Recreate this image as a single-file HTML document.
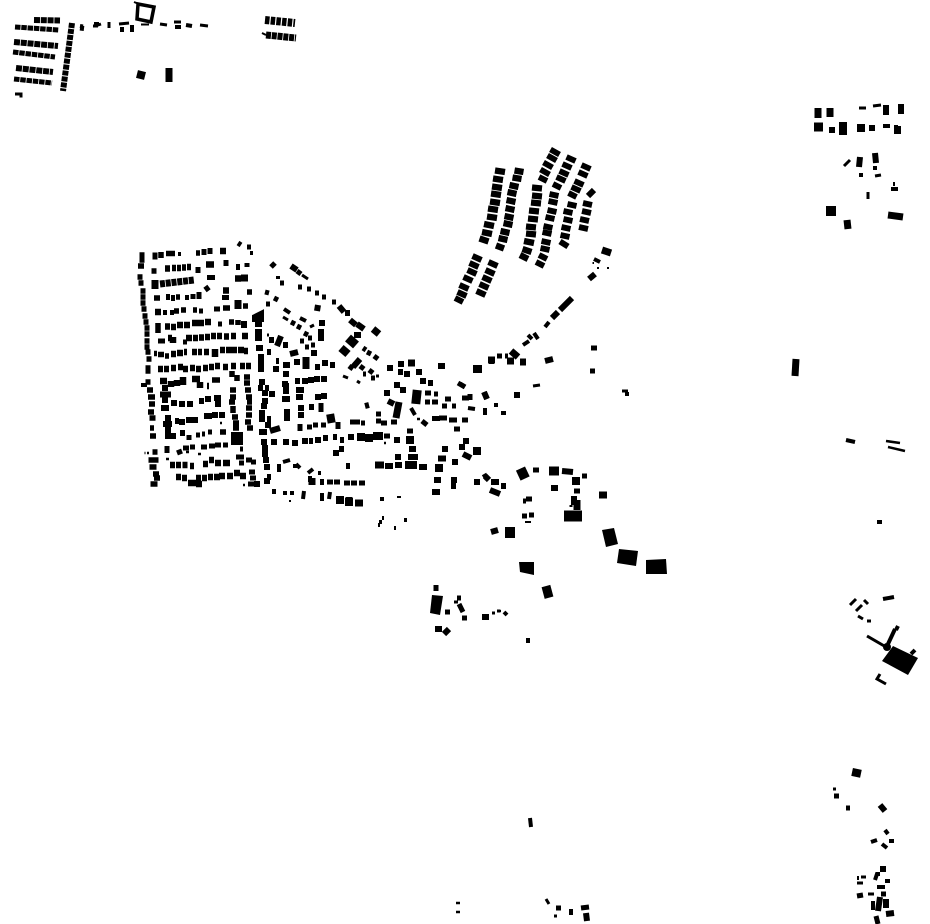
<!DOCTYPE html>
<html><head><meta charset="utf-8"><style>
html,body{margin:0;padding:0;background:#fff}
svg{display:block}
path{fill:none;stroke:#000;stroke-linecap:butt}
</style></head><body>
<svg width="930" height="924" viewBox="0 0 930 924" xmlns="http://www.w3.org/2000/svg">
<rect width="930" height="924" fill="#fff"/>
<!-- top left rows -->
<path stroke-width="6" stroke-dasharray="6 .8" d="M34 20l26 .5M14 42l44 4M16 68l37 4"/>
<path stroke-width="5" stroke-dasharray="5.5 .8" d="M15 27l44 3M13 52l42 5M14 79l38 4"/>
<path stroke-width="6" stroke-dasharray="5 1" d="M72 23l-9 68"/>
<path stroke-width="8" stroke-dasharray="4.5 1.2" d="M265 20l30 3"/>
<path stroke-width="7" stroke-dasharray="5 .8" d="M266 35l30 3"/>
<path stroke-width="3.5" d="M138 4l16 3l-3 15l-14 -3z"/>
<path stroke-width="2" d="M134 2l5 2M141 24.5h8M262 33l4 2"/>
<path stroke-width="3" d="M95 26l6 -2M94 23.5h5M109 22v6M160 24l7 1M174 22h7M200 25l8 1M93 26h5M119 24l10 -1M15 94h6M21 92.5v5"/>
<path stroke-width="4" d="M122 27v5M132 25v7M175 27h6M186 25l6 1M80 26l3 .5"/>
<path stroke-width="5" d="M80 28l4 .5"/>
<path stroke-width="8" d="M137 74l8 2"/>
<path stroke-width="7" d="M169 68v14"/>

<!-- west block -->
<path stroke-width="5.500" d="M139.500 255h5M139.500 260h5M138 266h6M137.500 277h5M138.500 283h5M140.500 291h5M140.500 297h5M140.500 303h5M141.500 309h5M142.500 316h5M143.500 322h5M144.500 328h5M144.500 334h5M144.500 341h5M144.500 347h5M145.500 352h5M146.500 359h5M145.500 368h5M145.500 371h5M145.500 382h5M147 390h6M148 397h7M149 404h6M148 412h6M149.500 418h6M150 428h4M150 436h6M152.500 452h5M148.500 460h10M149.500 467h7M153 474h6M154 478h6M150.500 484h7"/>
<path stroke-width="5" d="M155 252.500v7M204 249v6M210 248v6M247 247h4M238 243l3 2M198 267v6M226 260v6M247 263v4M207 277.500h8M193 294v5M199 292v7M222 297.500h7M163 312.500h4M170 312.500h4M199 311h4M214 309h6M218 324h4M160 341h5M183 342h4M158 341h3"/>
<path stroke-width="4" d="M250 253h3M238 264v6M168 294v6M173 295v6M187 295v5M141 385h6M178 254h3"/>
<path stroke-width="6.500" d="M220 251h6M165 268.500h5M172 268h4M177 268h4M182 267.500h4M187 267h4M206 264.500h8M235 278.500h6M223 290.500h6M155 312h6M186 338h6M193 338h5M199 337.500h5M205 337h5M211 336h5M217 336h5M224 336.500h5M231 336h5M242 336h6M171 354h5M177 353h6M184 352h3M192 352h5M198 352h4M204 352h5M220 350h5M226 350h5M231 350h6M238 350h6M244 351h4"/>
<path stroke-width="5.500" d="M161 252v6M166 253.500h9M196 253h4M151.500 271h5M154 298h6M176 297h4M247 292h5M181 310h5M174 311h5M193 310h4M223 308h7M243 306h5M229 322h5M238 320v5M158 323v10M154 353.500h3M158 354.500h6M165 356h4M205 290l4 -3"/>
<path stroke-width="7" stroke-dasharray="5 .8" d="M160 284l34 -4"/>
<path stroke-width="7" d="M241 278h7M238 300v9M241 324.500h6M155 280v9"/>
<path stroke-width="6.500" d="M165 326.500h5M171 327h5M177 325h6M184 325h6M192 323h6M198 323h6M205 322h6M168 338h4M173 337v6M215 349v8"/>
<path stroke-width="6.500" d="M158 369h5M164 369h5M171 368h5M178 367h5M183 369h5M190 368h5M196 369h5M203 368h5M209 367h5M215 366h5M223 367h5M231 366h5M240 366h5M246 366h5M160 381h7M171 381v6M177 380v6M183 377v8M192 379h8M200 382v6M207 386h2"/>
<path stroke-width="5.500" d="M212 380h8M232 371v6M237 375v6M244 377h6M244 383h6M245 390h6M246 397h6M230 390h6M230 397h6M229 402h6M233 406v7M247 402h5M246 408h6M246 415h6M245 422h6M247 428h6M232 417h6M233 423h6M233 428h6M220 432h6"/>
<path stroke-width="6" d="M162 388h6M160 394.500h11M162 400h6M161 408h8M171 403h6M179 404h6M187 404h6M199 401h5M205 399h6M214 398h7M215 404h6M165 418h6M163 424h9M165 430h6M165 436h6M173 433v6M180 433h5M175 421h4M182 419v6M186 420h6M192 420h6M204 416h8M212 415h6M219 415h6"/>
<path stroke-width="5" d="M189 435v5M196 435h4M202 434h3M208 432h4M167 446v7M177 453l5 -2M183 448h6M190 447h5M201 447h6M209 446h6M215 445h6M223 445h5M236 457h6M240 449h3M240 457h4M239 463h5M246 460h6M251 462h5M249 472h6M250 478h6M248 484h6"/>
<path stroke-width="6.500" d="M170 465h5M176 465h5M182.500 465h5M190 466h4M203 464h5M209 460h5M215 463h6M223 463h7M176 477h5M182 478h5M188 483h8M196 484h6M196 478h5M202 478h5M208 477h5M214 477h6M219 476h6M227 476h6M234 473h6M240 476h6"/>
<rect x="231" y="432" width="12" height="13"/>
<path stroke-width="2.500" d="M144.500 453h1M147 453h2M166 459h3M186 452h3M198 454h3M220 423h2M241 450h2M243 485h2"/>

<!-- mid west -->
<path stroke-width="5" d="M271 267l4 -4M297 271l4 3M280 283l4 0M298 287l4 0M307 289h4M315 293h4M322 297h4M332 302h4M265 292l4 1M274 298l4 2M266 304l4 0M316 308h4M291 322l4 2M297 326l4 2M304 333l4 2M308 338l4 0M300 341h4M311 345h4M305 347h4M363 348l3 2M367 352l4 2M374 356l4 3M349 366l4 3M360 366l4 3M369 370l4 3M363 374h3M371 378h4"/>
<path stroke-width="6" d="M291 266l6 4M339 306l5 6M345 313h5M318 305l-1 6M319 323h6M318 332h6M318 338h6M350 320l6 5M357 324l7 5M354 335h7M353 367l7 -8"/>
<path stroke-width="7" d="M373 329l6 5"/>
<path stroke-width="9" d="M348 338l8 7"/>
<path stroke-width="8" d="M341 348l7 6"/>
<path stroke-width="3" d="M302 275l6 4M276 277.500h4M283 317l5 3M310 327l4 -2M376 376h3M343 376l5 2M357 381l3 2M267 335h2"/>
<path stroke-width="4" d="M284 309l6 4M300 318l6 3"/>
<path stroke-width="6" d="M255 317l6 -3v5h-6zM255 324h7M255 332h7M255 338h7M256 348h7M258 357h6M258 363h6M258 369h6M259 382h6M269 340h5M283 345h5M267 352h4M276 361h3M273 369h6"/>
<path stroke-width="6" d="M281 336l-4 10M290 354l8 -2M283 365h7M283 374h6M311 353h6M294 362h6M300 381h-5M302 381h6M308 380h6M314 379h6M321 379h6M315 367h5M322 363h6M330 365h5M282 384h6"/>
<path stroke-width="7" d="M306 357v12"/>
<path stroke-width="6" d="M258 388h5M265 388h4M283 386h6M283 391h6M282 399h8M296 390h8M296 397h7M315 397h6M321 396h6M365 406l4 -1M262 393h6M269 394h6M262 401h6M261 406h6M259 413h6M259 419h6M267 419h4M265 425h6M270 431l10 -3M259 432h8M284 412h6M284 418h6M298 408h6M298 415h6M309 407h5"/>
<path stroke-width="5" d="M321 403v9M300 424v7M307 427h5M313 425h5M321 425h5M338 422v7M350 422h5M355 422h5M361 423h4M376 421h5M376 414h5M381 423h4"/>
<rect x="327" y="414" width="8" height="9" transform="rotate(-10 331 419)"/>
<path stroke-width="6" d="M261 442h6M271 442h6M283 442h6M292 443h6M302 441h6M309 441h4M315 440h6M323 438h5M333 437h4M340 440h4M348 437h6"/>
<path stroke-width="8" d="M357 437h8M365 438h8M373 436h10"/>
<path stroke-width="6" d="M333 453h6M339 449h5M262 448h6M262 454h6M263 460h6M264 467h6M267 477h4M264 481h6M254 484h6"/>
<path stroke-width="4" d="M348 463v6M279 464v8M283 462l7 -2M295 464v4M296 464l4 4M310 482v-6M322 479v6M308 473l5 -4M318 473h3"/>
<path stroke-width="7" d="M375 465h9M312 478v7"/>
<path stroke-width="5" d="M327 482h6M334 482h6M344 483h6M351 483h6M359 483h6"/>
<path stroke-width="4" d="M274 489v5M283 493h4M290 493h4M304 491l-1 8M322 493v8M330 492l-1 7"/>
<path stroke-width="8" d="M336 500h8M345 502h8"/>
<path stroke-width="7" d="M349 497v9M355 503h8"/>
<path stroke-width="2" d="M289 501h2M397 497h4"/>

<!-- village centre -->
<path stroke-width="6" d="M398 364h6M398 372h5M404 374h6M416 372h6M420 381h6M428 383h5M394 385h6M400 390h6M384 393h6M388 401l6 3M438 366l7 0M489 361h5M390 365v6M476 365v8"/>
<path stroke-width="7" d="M408 363h7M399 402l-3 16"/>
<rect x="412" y="390" width="9" height="14" transform="rotate(6 417 397)"/>
<path stroke-width="5" d="M458 383l7 4M425 393h6M434 394h4M425 402h5M432 402h6M445 399h6M442 406h5M452 406h4M462 398h7M470 394v6M484 392l3 7"/>
<path stroke-width="4" d="M468 408l7 1M485 408v7M494 405h4M501 413h5M376 414h3M411 408l4 7"/>
<path stroke-width="5" d="M422 421l5 4M432 418.500h8M449 420h8M462 420h6M454 429h6M439 418h8M381 423h6M391 422h6M407 431h6M384 436h6"/>
<path stroke-width="2.500" d="M417 419h3M384 443h2M498 611h3"/>
<path stroke-width="6" d="M394 440h6M406 440h8M409 449h7M395 457h6M408 457h10M395 465h7M375 465h9M385 466h8M406 465h11M419 467h8M442 449h6M438 458.500h8M452 462h6M463 441h6M459 447h6M463 454l8 4M485 476l4 4"/>
<path stroke-width="8" d="M405 465h12M435 468h8M406 440h8M473 451h8M375 436h8"/>
<path stroke-width="6" d="M491 482h8M474 482h6M490 490l10 4M501 486h5M434 480h7M451 480h6M451 486h5M432 492h8M435 468h6"/>
<path stroke-width="4" d="M380 499l4 0M404 520h3M379 522h3M378 525h2M382 518h2M394 528h2"/>

<!-- north-centre strips -->
<path stroke-width="6.300" d="M495 170.500l10 1.500M493 178.500l10 1.500M492 186.500l10 1.500M491 193.500l10 1.500M490 201.500l10 1.500M488 208.500l10 1.500M487 216.500l10 1.500M484 224l10 2M482 232l10 2M479.500 238.500l9 3"/>
<path stroke-width="6.300" d="M514.500 170.500l9 1.500M512.500 177.500l9 1.500M509.500 185l9 2M507.500 192l9 2M506.500 200l9 2M505.500 208l9 2M504.500 216l9 2M503.500 223l9 2M500.500 231l9 2M498.500 238l9 2M496 245.500l8 3"/>
<path stroke-width="6.300" d="M532 187.500l10 1M532 195.500l10 1M531 202.500l10 1M529 210.500l10 1M528 218.500l10 1M526 226.500l10 1M526 233.500l10 1M524 241l10 2M522.500 249l9 3M520 255l8 4"/>
<path stroke-width="5.800" d="M550.500 149.500l9 5M547.500 155.500l9 5M543.500 162.500l9 5M540.500 169.500l9 5M539 177l8 4"/>
<path stroke-width="6" d="M549.500 194l9 2M548.500 201l9 2M547.500 210l9 2M545.500 217l9 2M543.500 226l9 2M542.500 232l9 2M541.500 241l9 2M540.500 248l9 2M539 255l8 4M536 262l8 4"/>
<path stroke-width="5.800" d="M566.500 157l9 4M562.500 164l9 4M559.500 171l9 4M556.500 177l9 4M553 184l8 4"/>
<path stroke-width="6" d="M567.500 204l9 2M563.500 211l9 2M563.500 219l9 2M561.500 227l9 2M560.500 235l9 2M560 241.500l8 5"/>
<path stroke-width="5.800" d="M581.500 165l9 4M578.500 172l9 4M574.500 181l9 4M571.500 187l9 4M568.500 193l8 4"/>
<path stroke-width="6" d="M588 196l6 -6M583 203l9 2M582 211l9 2M580 219l9 2M579 227l9 2"/>
<path stroke-width="6" d="M472.500 256l9 4M469.500 263l9 4M467.500 270l9 4M463.500 277l9 4M459.500 285l9 4M457.500 292l9 4M455 298l8 4"/>
<path stroke-width="6" d="M488.500 262l9 4M485.500 270l9 4M482.500 277l9 4M479.500 284l9 4M476.500 291l9 4"/>
<path stroke-width="7" d="M602 250l9 3"/>
<path stroke-width="4" d="M594 259l6 3"/>
<path stroke-width="2" d="M597 268h2M607 268h2M592.500 263h1.500"/>
<path stroke-width="6" d="M589 279l6 -5"/>
<path stroke-width="6" d="M566 304l6 -6M560 310l6 -6M552 318l6 -6"/>
<path stroke-width="4" d="M545 327l4 -5M534 333l4 6M528 335l4 4M523 345l6 -4"/>
<path stroke-width="7" d="M511 351l7 6M488 360h7M507 361h7M520 362h6"/>
<path stroke-width="5" d="M497 356h5M505 356h3M591 348h6M590 371h5M460 384l5 3"/>
<path stroke-width="6" d="M545 361l8 -2M479 365v8M484 392l3 7M517 392v6"/>
<path stroke-width="3" d="M533 386l7 -1M622 391h6"/>
<path stroke-width="4" d="M625 394h4"/>

<!-- south-centre -->
<rect x="518" y="468" width="10" height="11" transform="rotate(-25 523 474)"/>
<path stroke-width="5" d="M533 470h6M484 474l3 5M582 476h5M523 501h3M526 499h6M522 516h5M529 515h5M574 491h6"/>
<path stroke-width="9" d="M549 471h10"/>
<path stroke-width="6" d="M562 471l11 1M551 488h7M574 505v-9"/>
<path stroke-width="8" d="M572 481h8"/>
<path stroke-width="7" d="M599 495h8M577 500v10"/>
<path stroke-width="2" d="M525 522h6M569.500 506h3"/>
<path stroke-width="11" d="M564 516h18"/>
<path stroke-width="6" d="M491 532l7 -2"/>
<rect x="505" y="527" width="10" height="11"/>
<polygon points="602,530 614,528 618,544 606,547"/>
<polygon points="619,549 638,551 636,566 617,563"/>
<polygon points="646,560 666,559 667,574 646,574"/>
<polygon points="519,562 534,562 534,575 520,572"/>
<rect x="543" y="586" width="9" height="12" transform="rotate(-15 547 592)"/>
<path stroke-width="5" d="M436 585v6"/>
<polygon points="432,595 443,596 440,615 430,613"/>
<path stroke-width="5" d="M445 612h5M457 598l4 0M459 604l4 8M462 618h5"/>
<path stroke-width="3" d="M454 602h4"/>
<path stroke-width="6" d="M435 629h7M444 634l5 -5"/>
<path stroke-width="6" d="M482 617h7"/>
<path stroke-width="3" d="M492 613h3M497 611h3"/>
<path stroke-width="4" d="M504 612l3 3"/>
<rect x="526" y="638" width="4" height="5"/>

<!-- NE cluster -->
<path stroke-width="7" d="M818 108v10M830 108v9"/>
<path stroke-width="3" d="M859 108h7M873 106l8 -1M868 192v7M844 166l6 -6"/>
<path stroke-width="6" d="M886 105v10M901 104v10M829 130h6"/>
<path stroke-width="9" d="M814 127h9"/>
<path stroke-width="8" d="M843 122v13M857 128h8"/>
<path stroke-width="6" d="M869 128h6M860 157l-1 10M875 153l1 10"/>
<path stroke-width="4" d="M883 126h7M896 125v9M899 126v8M891 189h7M893 184h2"/>
<path stroke-width="4" d="M873 168h4M859 175h4"/>
<path stroke-width="3" d="M875 176l6 -1"/>
<rect x="826" y="206" width="10" height="10"/>
<path stroke-width="7" d="M847 220l1 9M888 215l15 2"/>

<!-- east -->
<path stroke-width="7" d="M796 359l-1 17"/>
<path stroke-width="4" d="M846 440l9 2M877 522h5"/>
<path stroke-width="2.500" d="M886 441l14 2M888 447l17 4"/>
<path stroke-width="4" d="M883 599l11 -2"/>
<path stroke-width="3" d="M850 605l6 -6M856 611l6 -6M864 600l4 4M858 616l5 3M867 621h4"/>
<path stroke-width="3" d="M867 636l19 11"/>
<circle cx="887" cy="647" r="4"/>
<path stroke-width="4" d="M888 644l7 -15M896 630l2 -4"/>
<polygon points="893,646 918,658 908,675 882,661"/>
<path stroke-width="4" d="M911 654l4 -4"/>
<path stroke-width="3" d="M880 674l-3 5l9 5"/>

<!-- SE cluster -->
<rect x="852" y="769" width="9" height="8" transform="rotate(12 857 773)"/>
<path stroke-width="3" d="M833 789h3"/>
<path stroke-width="5" d="M834 796h5M846 808l4 0"/>
<path stroke-width="6" d="M880 805l5 6M880 869l6 0"/>
<path stroke-width="4" d="M885 830l3 4M871 842l6 -2M889 841h5M882 844l5 4M857 878h2"/>
<path stroke-width="3" d="M861 877h5M857 883h6M868 894h6"/>
<path stroke-width="4" d="M875 880l2 -6h3M877 887h8M885 881h5"/>
<path stroke-width="5" d="M857 896l6 -1M881 894h5"/>
<path stroke-width="4" d="M873 901v9"/>
<path stroke-width="6" d="M880 897l-2 14M886 899v9M886 914l8 -1"/>
<path stroke-width="5" d="M876 916l2 8"/>

<!-- south -->
<path stroke-width="4" d="M530 818l1 9"/>
<path stroke-width="2.500" d="M456 903h4M456 912h4"/>
<path stroke-width="3" d="M546 899l3 5M554 916h3"/>
<path stroke-width="5" d="M556 908h5"/>
<path stroke-width="4" d="M571 909v6"/>
<path stroke-width="5" d="M581 908l8 -1"/>
<path stroke-width="6" d="M586 913l1 8"/>
</svg>
</body></html>
